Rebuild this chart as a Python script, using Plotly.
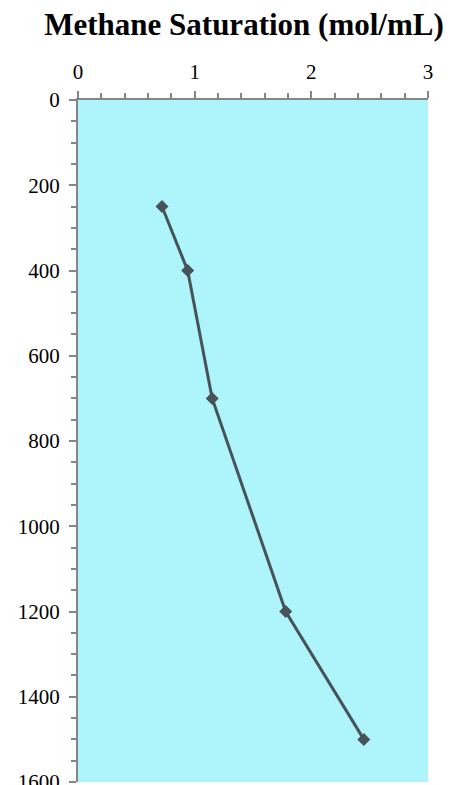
import plotly.graph_objects as go

saturation = [0.72, 0.94, 1.15, 1.78, 2.45]
depth = [250, 400, 700, 1200, 1500]
x_ticks = [0, 1, 2, 3]
y_ticks = [0, 200, 400, 600, 800, 1000, 1200, 1400, 1600]

# page body has an 8px default margin, so figure is sized/offset accordingly
W, H = 460, 777
fig = go.Figure()
fig.add_trace(go.Scatter(
    x=saturation, y=depth, mode="lines+markers",
    line=dict(color="#475259", width=3),
    marker=dict(symbol="diamond", size=10, color="#475259"),
    showlegend=False,
))

axis_color = "#868686"
font = dict(family="Liberation Serif", size=21, color="black")
fig.update_layout(
    width=W, height=H,
    margin=dict(l=70, r=40, t=92, b=3),
    paper_bgcolor="white", plot_bgcolor="#adf5fa",
    title=dict(text="<b>Methane Saturation (mol/mL)</b>",
               font=dict(family="Liberation Serif", size=31, color="black"),
               x=236 / W, xanchor="center", xref="container",
               y=1 - 16 / H, yanchor="middle", yref="container"),
    xaxis=dict(side="top", range=[0, 3], tickvals=x_ticks, ticktext=[str(v) for v in x_ticks],
               showgrid=False, zeroline=False, showline=True, linecolor=axis_color, linewidth=2,
               ticks="outside", ticklen=7, tickwidth=2, tickcolor=axis_color,
               minor=dict(ticks="outside", dtick=0.2, ticklen=5, tickwidth=2, tickcolor=axis_color, showgrid=False),
               tickfont=font, ticklabelstandoff=4, automargin=False),
    yaxis=dict(range=[1600, 0], tickvals=y_ticks, ticktext=[str(v) for v in y_ticks],
               showgrid=False, zeroline=False, showline=True, linecolor=axis_color, linewidth=2,
               ticks="outside", ticklen=7, tickwidth=2, tickcolor=axis_color,
               minor=dict(ticks="outside", dtick=50, ticklen=5, tickwidth=2, tickcolor=axis_color, showgrid=False),
               tickfont=font, ticklabelstandoff=5, ticklabeloverflow="allow", automargin=False),
)
fig.write_html("out.html")
